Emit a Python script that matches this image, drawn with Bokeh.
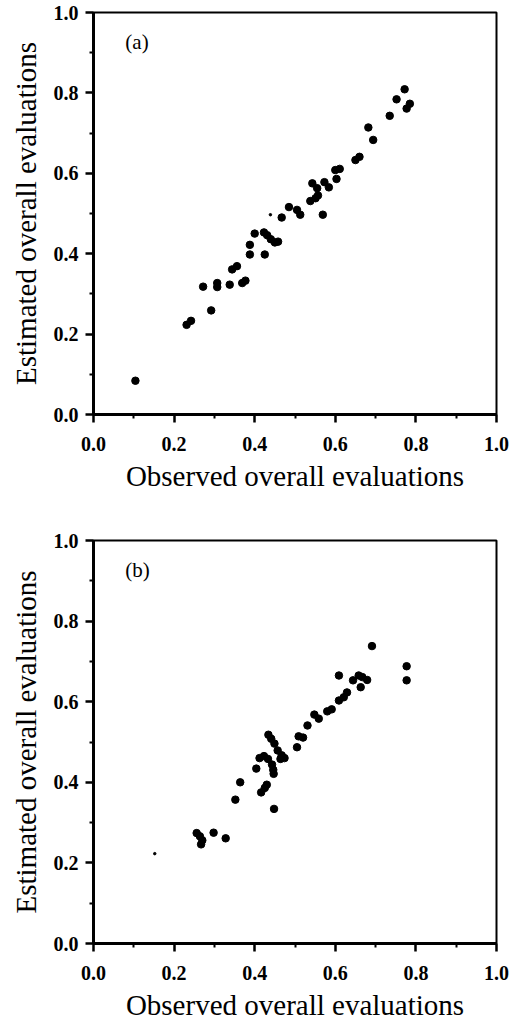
from bokeh.plotting import figure
from bokeh.layouts import column
from bokeh.models import Range1d, FixedTicker, Label
from bokeh.embed import file_html
from bokeh.resources import INLINE

# ---------------- data ----------------
a_obs = [0.104, 0.231, 0.242, 0.272, 0.292, 0.307, 0.307, 0.338, 0.344, 0.356,
         0.369, 0.377, 0.388, 0.388, 0.400, 0.425, 0.423, 0.431, 0.440, 0.450,
         0.458, 0.467, 0.485, 0.505, 0.513, 0.538, 0.551, 0.557, 0.543, 0.555,
         0.569, 0.573, 0.584, 0.600, 0.611, 0.603, 0.650, 0.660, 0.682, 0.694,
         0.735, 0.752, 0.772, 0.785, 0.777]
a_est = [0.084, 0.223, 0.233, 0.318, 0.259, 0.327, 0.317, 0.323, 0.361, 0.369,
         0.327, 0.333, 0.398, 0.422, 0.450, 0.398, 0.453, 0.446, 0.436, 0.428,
         0.430, 0.490, 0.516, 0.509, 0.497, 0.531, 0.538, 0.545, 0.575, 0.563,
         0.497, 0.578, 0.565, 0.608, 0.611, 0.586, 0.633, 0.641, 0.714, 0.683,
         0.743, 0.784, 0.809, 0.773, 0.761]

b_obs = [0.256, 0.264, 0.270, 0.267, 0.298, 0.328, 0.352, 0.364, 0.404, 0.412,
         0.423, 0.433, 0.416, 0.425, 0.430, 0.443, 0.446, 0.447, 0.448, 0.434,
         0.441, 0.449, 0.457, 0.467, 0.474, 0.464, 0.505, 0.509, 0.520, 0.531,
         0.548, 0.559, 0.580, 0.591, 0.609, 0.609, 0.621, 0.629, 0.644, 0.658,
         0.667, 0.663, 0.679, 0.691, 0.777, 0.777]
b_est = [0.274, 0.266, 0.256, 0.246, 0.275, 0.261, 0.357, 0.400, 0.434, 0.460,
         0.465, 0.458, 0.375, 0.386, 0.394, 0.444, 0.431, 0.421, 0.334, 0.518,
         0.508, 0.496, 0.479, 0.467, 0.460, 0.458, 0.487, 0.514, 0.511, 0.541,
         0.568, 0.558, 0.576, 0.581, 0.665, 0.603, 0.611, 0.623, 0.653, 0.665,
         0.661, 0.636, 0.654, 0.738, 0.688, 0.653]

# faint specks
a_faint_obs = [0.439]
a_faint_est = [0.497]
b_faint_obs = [0.152]
b_faint_est = [0.223]

major_ticks = [0.0, 0.2, 0.4, 0.6, 0.8, 1.0]
minor_ticks = [0.1, 0.3, 0.5, 0.7, 0.9]
tick_labels = {0.0: "0.0", 0.2: "0.2", 0.4: "0.4", 0.6: "0.6", 0.8: "0.8", 1.0: "1.0"}
x_title = "Observed overall evaluations"
y_title = "Estimated overall evaluations"
panel_names = ["(a)", "(b)"]

FONT = "Liberation Serif"


def make_panel(obs, est, fobs, fest, name, height, top, bottom):
    p = figure(width=520, height=height, output_backend="svg", toolbar_location=None,
               x_range=Range1d(0, 1), y_range=Range1d(0, 1),
               min_border_left=93, min_border_right=24,
               min_border_top=top, min_border_bottom=bottom)
    p.grid.visible = False
    p.outline_line_color = "black"
    p.outline_line_width = 2
    p.outline_line_alpha = 1.0
    p.background_fill_color = "white"
    p.border_fill_color = "white"

    for ax in (p.xaxis[0], p.yaxis[0]):
        ax.ticker = FixedTicker(ticks=major_ticks, minor_ticks=minor_ticks)
        ax.major_label_overrides = tick_labels
        ax.axis_line_width = 3
        ax.axis_line_color = "black"
        ax.major_tick_line_width = 2.5
        ax.minor_tick_line_width = 2
        ax.major_tick_out = 8
        ax.major_tick_in = 0
        ax.minor_tick_out = 4
        ax.minor_tick_in = 0
        ax.major_label_text_font = FONT
        ax.major_label_text_font_size = "20px"
        ax.major_label_text_font_style = "bold"
        ax.major_label_text_color = "black"
        ax.axis_label_text_font = FONT
        ax.axis_label_text_font_size = "29px"
        ax.axis_label_text_font_style = "normal"
        ax.axis_label_text_color = "black"

    p.xaxis.axis_label = x_title
    p.yaxis.axis_label = y_title
    p.xaxis.major_label_standoff = 14
    p.xaxis.axis_label_standoff = 6
    p.yaxis.major_label_standoff = 7
    p.yaxis.axis_label_standoff = 9

    p.scatter(obs, est, marker="circle", size=7.5, color="black")
    p.scatter(fobs, fest, marker="circle", size=2.5, color="black")

    p.add_layout(Label(x=0.079, y=0.926, text=name, text_font=FONT,
                       text_font_size="21px", text_baseline="middle",
                       text_align="left", text_color="black"))
    return p


p1 = make_panel(a_obs, a_est, a_faint_obs, a_faint_est, panel_names[0], 510, 12, 96)
p2 = make_panel(b_obs, b_est, b_faint_obs, b_faint_est, panel_names[1], 516, 30, 83)

layout = column(p1, p2, spacing=0)
open("out.html", "w").write(file_html(layout, INLINE))
